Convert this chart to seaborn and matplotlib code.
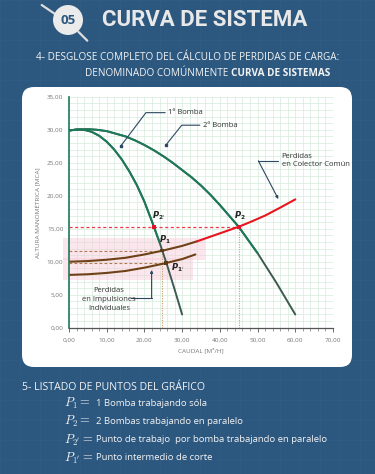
import matplotlib
matplotlib.use("Agg")
import matplotlib.pyplot as plt
from matplotlib.patches import FancyBboxPatch, Circle
from matplotlib.ticker import MultipleLocator, FuncFormatter
import seaborn as sns

# Curvas: caudal [m3/h] y altura [mca]
q_bomba1 = [0, 2, 4, 6, 8, 10, 12, 14, 16, 18, 20, 22, 24, 26, 28, 30]
h_bomba1 = [29.9, 30.05, 30.0, 29.7, 29.1, 28.2, 27.0, 25.5, 23.7, 21.6,
            19.1, 16.1, 12.95, 9.5, 5.8, 2.0]
q_bomba2 = [0, 2.5, 5, 7.5, 10, 12.5, 15, 17.5, 20, 22.5, 25, 27.5, 30,
            32.5, 35, 37.5, 40, 42.5, 45, 50, 55, 60]
h_bomba2 = [29.9, 30.05, 30.1, 30.0, 29.8, 29.4, 29.0, 28.4, 27.7, 26.9,
            26.0, 25.0, 23.9, 22.8, 21.55, 20.15, 18.6, 16.95, 15.3, 11.3,
            6.8, 2.0]
q_imp_sup = [0, 5, 10, 15, 20, 25, 30, 34]
h_imp_sup = [10.0, 10.1, 10.3, 10.6, 11.1, 11.7, 12.4, 13.1]
q_imp_inf = [0, 5, 10, 15, 20, 25, 30, 33.5]
h_imp_inf = [8.0, 8.1, 8.3, 8.6, 9.1, 9.7, 10.4, 11.1]
q_colector = [34, 38, 42, 45, 48, 52, 56, 60]
h_colector = [13.1, 13.9, 14.7, 15.3, 16.0, 17.0, 18.2, 19.45]

puntos_q = [22.5, 45.0, 24.7, 25.8]
puntos_h = [15.3, 15.3, 11.7, 9.8]
puntos_color = ["#e3122b", "#e3122b", "#5b3a1c", "#5b3a1c"]

x_ticks = [0, 10, 20, 30, 40, 50, 60, 70]
y_ticks = [0, 5, 10, 15, 20, 25, 30, 35]

lista_simbolos = [r"$P_1 =$", r"$P_2 =$", r"$P_{2'} =$", r"$P_{1'} =$"]
lista_textos = ["1 Bomba trabajando sóla",
                "2 Bombas trabajando en paralelo",
                "Punto de trabajo  por bomba trabajando en paralelo",
                "Punto intermedio de corte"]

FONDO = "#2c5880"
VERDE = "#1c7a5a"
OSCURO = "#3d5a50"
MARRON = "#6e4216"
FLECHA = "#2c4862"

sns.set_theme(style="white")
plt.rcParams["font.family"] = ["Open Sans", "DejaVu Sans"]

fig = plt.figure(figsize=(3.75, 4.74), dpi=100, facecolor=FONDO)

# capa de fondo en pixeles
bg = fig.add_axes([0, 0, 1, 1], zorder=-1)
bg.set_xlim(0, 375)
bg.set_ylim(474, 0)
bg.axis("off")
bg.set_facecolor(FONDO)
for v in range(0, 376, 20):
    bg.axvline(v, color="#3d6a93", lw=0.4, alpha=0.35)
for v in range(0, 475, 20):
    bg.axhline(v, color="#3d6a93", lw=0.4, alpha=0.35)

# cabecera
bg.plot([41.7, 55], [5, 14], color="#dcdcdc", lw=1.6, solid_capstyle="round")
bg.plot([78.3, 87.3], [31.7, 40.7], color="#dcdcdc", lw=1.6,
        solid_capstyle="round")
bg.add_patch(Circle((68, 20), 15, facecolor="#ebebeb", edgecolor="none",
                    zorder=3))
bg.text(68, 20.5, "05", ha="center", va="center", fontsize=9.5,
        fontweight="bold", color=FONDO, zorder=4)
bg.text(102, 19.5, "CURVA DE SISTEMA", ha="left", va="center", fontsize=16,
        fontweight="bold", color="#e8e8e8", family=["Roboto", "DejaVu Sans"])
bg.text(187.5, 57, "4- DESGLOSE COMPLETO DEL CÁLCULO DE PERDIDAS DE CARGA:",
        ha="center", va="center", fontsize=7.2, color="#f2f2f2")
bg.text(228, 73, "DENOMINADO COMÚNMENTE", ha="right", va="center",
        fontsize=7.2, color="#f2f2f2")
bg.text(231, 73, "CURVA DE SISTEMAS", ha="left", va="center",
        fontsize=7.2, fontweight="bold", color="#f2f2f2")

# panel blanco
panel = FancyBboxPatch((22, 87), 330, 280,
                       boxstyle="round,pad=0,rounding_size=12",
                       facecolor="white", edgecolor="none", zorder=3)
bg.add_patch(panel)

# listado de puntos
bg.text(22, 387, "5- LISTADO DE PUNTOS DEL GRÁFICO", ha="left", va="center",
        fontsize=7.6, color="#f2f2f2")
for i, (sim, txt) in enumerate(zip(lista_simbolos, lista_textos)):
    y = [403, 421, 440, 458][i]
    bg.text(64, y, sim, ha="left", va="center", fontsize=9,
            color="#f2f2f2", math_fontfamily="cm")
    bg.text(96, y, txt, ha="left", va="center", fontsize=6.8,
            color="#f2f2f2")

# grafico
ax = fig.add_axes([0.184, 0.3087, 0.704, 0.487])
ax.set_facecolor("white")
ax.set_xlim(0, 70)
ax.set_ylim(0, 35)
ax.xaxis.set_minor_locator(MultipleLocator(2))
ax.yaxis.set_minor_locator(MultipleLocator(1))
ax.set_xticks(x_ticks)
ax.set_yticks(y_ticks)
fmt = FuncFormatter(lambda v, p: f"{v:.2f}".replace(".", ","))
ax.xaxis.set_major_formatter(fmt)
ax.yaxis.set_major_formatter(fmt)
ax.grid(which="both", color="#d4ecdb", lw=0.5)
ax.set_axisbelow(True)
for s in ["top", "right"]:
    ax.spines[s].set_visible(False)
ax.spines["left"].set_color(VERDE)
ax.spines["left"].set_linewidth(1.2)
ax.spines["bottom"].set_color("#555555")
ax.spines["bottom"].set_linewidth(0.9)
ax.tick_params(axis="both", which="major", labelsize=4.6, labelcolor="#777777",
               length=0, pad=4)
ax.tick_params(axis="x", which="major", bottom=True, length=3, color="#555555",
               width=0.6)
ax.tick_params(axis="x", which="minor", bottom=True, length=1.8,
               color="#777777", width=0.5)
ax.set_xlabel("CAUDAL [M³/H]", fontsize=4.6, color="#777777", labelpad=4)
ax.set_ylabel("ALTURA MANOMÉTRICA [MCA]", fontsize=4.6, color="#777777",
              labelpad=5)

# zona rosada de las impulsiones
ax.fill_between([-1.5, 36], 10.3, 13.6, color="#f9c9d8", alpha=0.45,
                lw=0, clip_on=False)
ax.fill_between([-1.5, 33], 7.2, 10.6, color="#f9c9d8", alpha=0.45,
                lw=0, clip_on=False)

# lineas de referencia
ax.plot([0, 45], [15.3, 15.3], color="#f03a4a", lw=0.9, ls=(0, (2.5, 2)))
ax.plot([0, 24.7], [11.7, 11.7], color="#b07a50", lw=0.8, ls=(0, (2.5, 2)))
ax.plot([0, 25.8], [9.8, 9.8], color="#b07a50", lw=0.8, ls=(0, (2.5, 2)))
ax.plot([45, 45], [0, 15.3], color="#c9a06a", lw=0.8, ls=(0, (1, 1.2)))
ax.plot([24.7, 24.7], [0, 11.7], color="#c9a06a", lw=0.8, ls=(0, (1, 1.2)))

# curvas de bombas
sns.lineplot(x=q_bomba1, y=h_bomba1, color=OSCURO, lw=1.4, ax=ax)
sns.lineplot(x=q_bomba1[:13], y=h_bomba1[:13], color=VERDE, lw=1.4, ax=ax)
sns.lineplot(x=q_bomba2, y=h_bomba2, color=OSCURO, lw=1.4, ax=ax)
sns.lineplot(x=q_bomba2[:20], y=h_bomba2[:20], color=VERDE, lw=1.4, ax=ax)

# curvas de perdidas
sns.lineplot(x=q_imp_sup, y=h_imp_sup, color=MARRON, lw=1.5, ax=ax)
sns.lineplot(x=q_imp_inf, y=h_imp_inf, color=MARRON, lw=1.5, ax=ax)
sns.lineplot(x=q_colector, y=h_colector, color="#e8141e", lw=1.5, ax=ax)

# puntos
sns.scatterplot(x=puntos_q, y=puntos_h, color=puntos_color, marker="s",
                s=7, linewidth=0, ax=ax, zorder=5)
etiquetas = [(23.9, 17.0, r"$\mathbfit{P}_{\mathbf{2'}}$"),
             (45.4, 17.0, r"$\mathbfit{P}_{\mathbf{2}}$"),
             (25.5, 13.4, r"$\mathbfit{P}_{\mathbf{1}}$"),
             (28.7, 9.1, r"$\mathbfit{P}_{\mathbf{1'}}$")]
for xq, yh, t in etiquetas:
    ax.text(xq, yh, t, ha="center", va="center", fontsize=6, color="#222222")

# anotaciones
ax.plot([13.8, 20.4, 25.5], [27.6, 32.6, 32.6], color=FLECHA, lw=0.8)
ax.plot([13.8], [27.6], marker="s", ms=1.8, color=FLECHA)
ax.text(26.2, 32.6, "1º Bomba", ha="left", va="center", fontsize=5.5,
        color="#333333")
ax.plot([25.7, 29.9, 34.7], [27.7, 30.7, 30.7], color=FLECHA, lw=0.8)
ax.plot([25.7], [27.7], marker="s", ms=1.8, color=FLECHA)
ax.text(35.5, 30.7, "2º Bomba", ha="left", va="center", fontsize=5.5,
        color="#333333")

ax.plot([55.3, 50.2], [25.3, 25.3], color=FLECHA, lw=0.8)
ax.annotate("", xy=(55.5, 19.5), xytext=(50.2, 25.3),
            arrowprops=dict(arrowstyle="-|>", color=FLECHA, lw=0.8,
                            mutation_scale=4, shrinkA=0, shrinkB=0))
ax.text(56.4, 25.35, "Perdidas\nen Colector Común", ha="left", va="center",
        fontsize=5.5, color="#333333", linespacing=1.35, clip_on=False)

ax.plot([16.4, 21.9], [4.45, 4.45], color=FLECHA, lw=0.8)
ax.annotate("", xy=(21.9, 8.75), xytext=(21.9, 4.45),
            arrowprops=dict(arrowstyle="-|>", color=FLECHA, lw=0.8,
                            mutation_scale=4, shrinkA=0, shrinkB=0))
ax.text(10.6, 4.3, "Perdidas\nen Impulsiones\nIndividuales", ha="center",
        va="center", fontsize=5.5, color="#333333", linespacing=1.35)

fig.savefig("out.png", dpi=100, facecolor=FONDO)
